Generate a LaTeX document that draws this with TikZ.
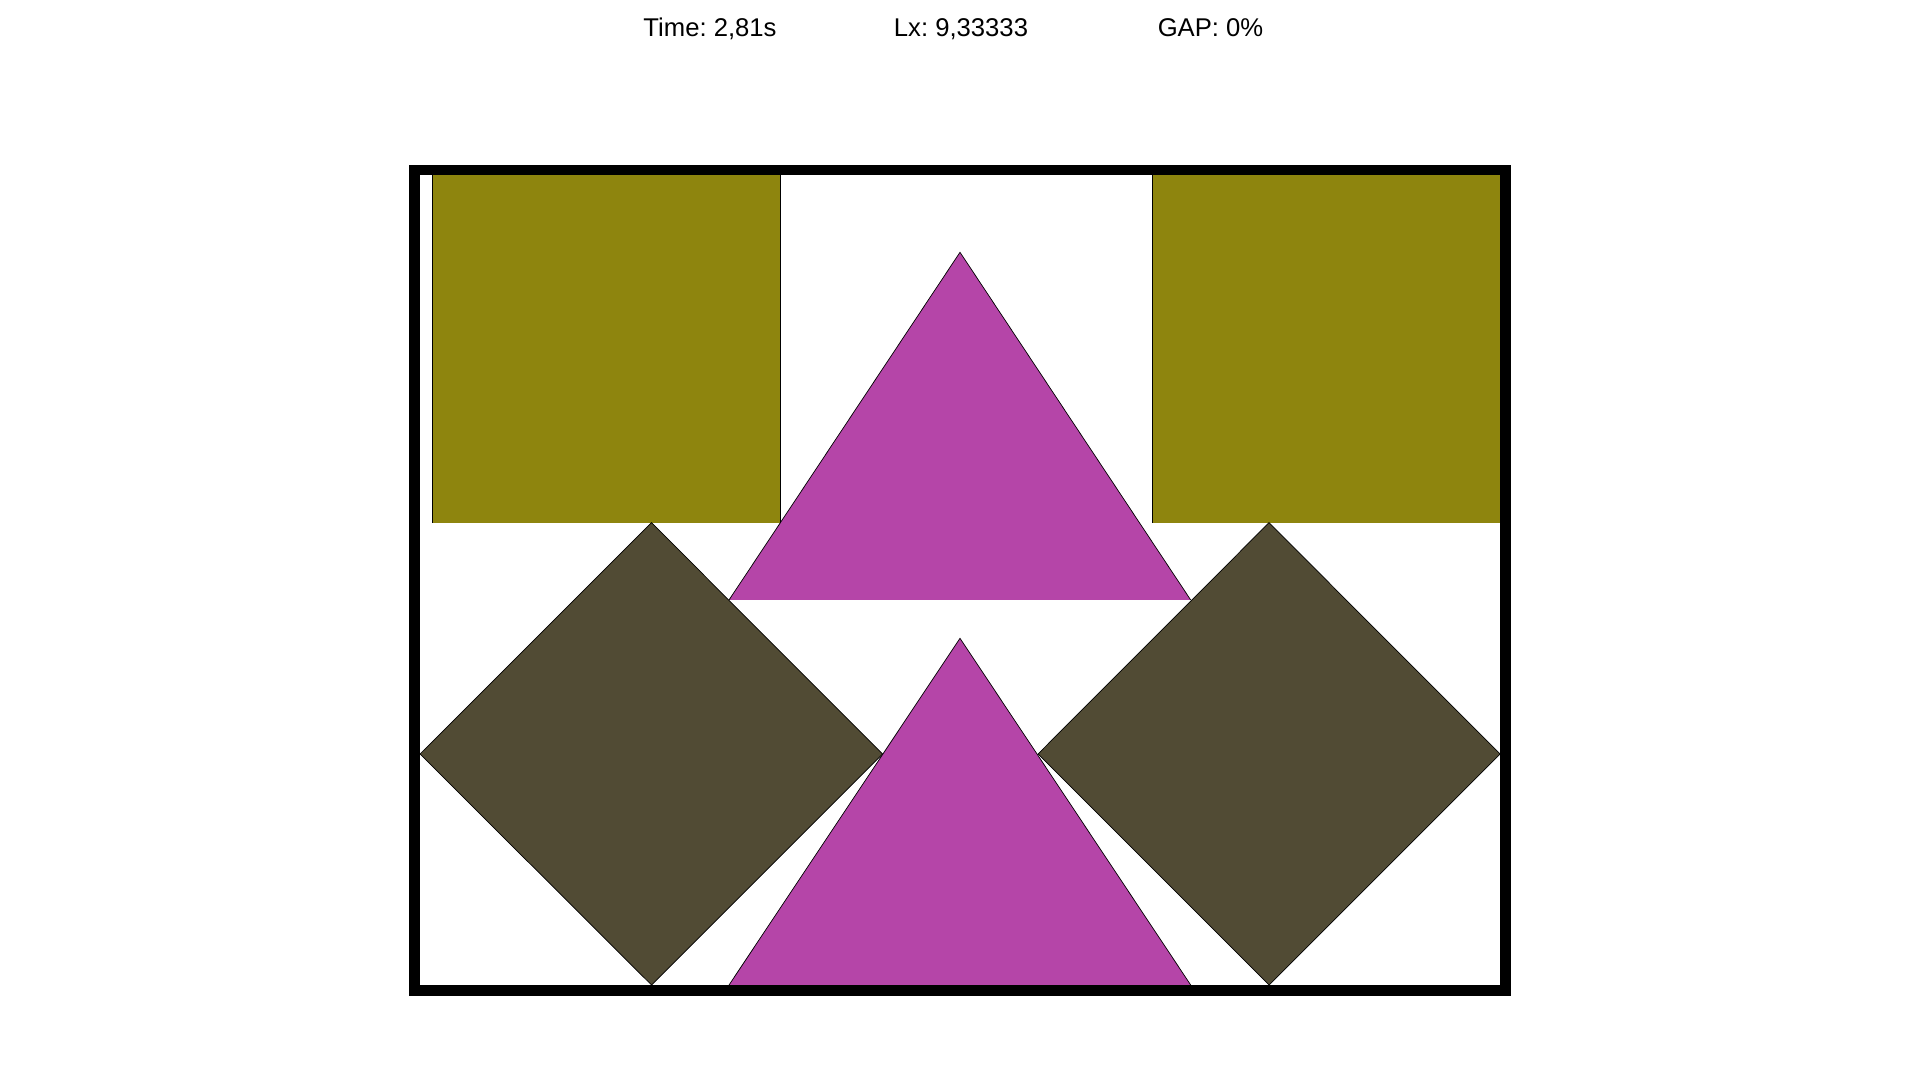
\documentclass[tikz,border=0pt]{standalone}
\usepackage{fontspec}
\setmainfont{Liberation Sans}
\usepackage{xcolor}
\usepackage{tikz}
\frenchspacing
\definecolor{pkolive}{RGB}{142,133,14}
\definecolor{pkdark}{RGB}{81,75,52}
\definecolor{pkpink}{RGB}{181,69,168}
\tikzset{
  pkframe/.style={line width=3.05pt, draw=black, line join=miter},
  pksquare/.style={fill=pkolive},
  pkedge/.style={line width=0.2pt, draw=black},
  pkdiamond/.style={fill=pkdark, draw=black, line width=0.2pt},
  pktri/.style={fill=pkpink},
  pklabel/.style={anchor=base, inner sep=0pt, font=\fontsize{7.3}{9}\selectfont},
}
\begin{document}
\begin{tikzpicture}
\useasboundingbox (0,0) rectangle (19.2,10.8);
\node[pklabel] (time) at (7.100,10.435) {Time: 2,81s};
\node[pklabel] (lx) at (9.610,10.435) {Lx: 9,33333};
\node[pklabel] (gap) at (12.105,10.435) {GAP: 0\%};
\fill[pksquare] (4.320,5.573) rectangle (7.803,9.050);
\draw[pkedge] (4.320,5.573) -- (4.320,9.050);
\draw[pkedge] (7.803,5.573) -- (7.803,9.050);
\fill[pksquare] (11.523,5.573) rectangle (15.000,9.050);
\draw[pkedge] (11.523,5.573) -- (11.523,9.050);
\fill[pktri] (7.290,4.800) -- (11.907,4.800) -- (9.600,8.277) -- cycle;
\draw[pkedge] (7.290,4.800) -- (9.600,8.277) -- (11.907,4.800);
\draw[pkdiamond] (4.200,3.260) -- (6.515,5.573) -- (8.825,3.260) -- (6.515,0.950) -- cycle;
\draw[pkdiamond] (10.380,3.260) -- (12.690,5.573) -- (15.000,3.260) -- (12.690,0.950) -- cycle;
\fill[pktri] (7.290,0.950) -- (11.907,0.950) -- (9.600,4.417) -- cycle;
\draw[pkedge] (7.290,0.950) -- (9.600,4.417) -- (11.907,0.950);
\draw[pkframe] (4.145,0.895) rectangle (15.055,9.100);
\end{tikzpicture}
\end{document}
